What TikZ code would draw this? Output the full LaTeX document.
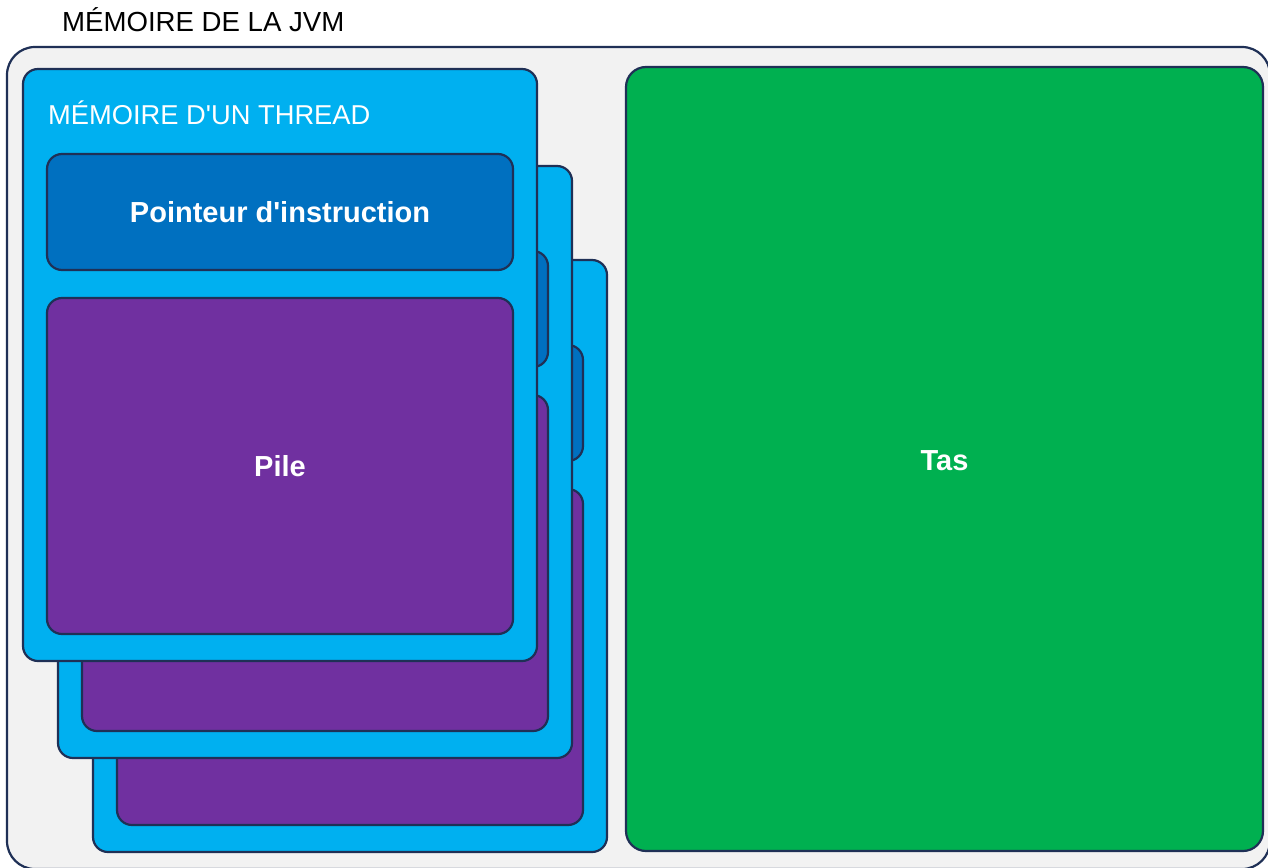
\documentclass[tikz,border=0pt]{standalone}
\usepackage{fontspec}
\setmainfont{Liberation Sans}
\definecolor{bordc}{HTML}{1F3056}
\definecolor{outerc}{HTML}{F2F2F2}
\definecolor{cardc}{HTML}{00B0F0}
\definecolor{pic}{HTML}{0070C0}
\definecolor{pilec}{HTML}{7030A0}
\definecolor{tasc}{HTML}{00B050}
\begin{document}
\begin{tikzpicture}[x=1pt,y=-1pt,
  box/.style={draw=bordc, line width=2.2pt, inner sep=0pt, outer sep=0pt, anchor=north west, rounded corners=15pt},
  cardbox/.style={box, fill=cardc, minimum width=514pt, minimum height=592pt},
  pibox/.style={box, fill=pic, minimum width=466pt, minimum height=116pt},
  pilebox/.style={box, fill=pilec, minimum width=466pt, minimum height=336pt},
  boldlbl/.style={text=white, font=\fontsize{29}{34}\selectfont\bfseries},
  titlelbl/.style={inner sep=0pt, anchor=base west, font=\fontsize{27.6}{32}\selectfont}
]
\useasboundingbox (0,0) rectangle (1268,867);
\fill[white] (0,0) rectangle (1268,867);
% outer JVM memory
\node[box, fill=outerc, rounded corners=28pt, minimum width=1263pt, minimum height=822pt] (jvm) at (7,47) {};
\node[titlelbl] (jvmlbl) at (62,32) {MÉMOIRE DE LA JVM};
% thread 3 (back)
\node[cardbox] (c3) at (93,260) {};
\node[pibox] (p3) at (117,345) {};
\node[pilebox] (s3) at (117,489) {};
% thread 2
\node[cardbox] (c2) at (58,166) {};
\node[pibox] (p2) at (82,251) {};
\node[pilebox] (s2) at (82,395) {};
% thread 1 (front)
\node[cardbox] (c1) at (23,69) {};
\node[titlelbl, text=white, font=\fontsize{27.3}{32}\selectfont] (c1lbl) at (48,124) {MÉMOIRE D\textquotesingle UN THREAD};
\node[pibox] (p1) at (47,154) {};
\node[boldlbl] (p1lbl) at (p1.center) {Pointeur d\textquotesingle instruction};
\node[pilebox] (s1) at (47,298) {};
\node[boldlbl] (s1lbl) at (s1.center) {Pile};
% heap
\node[box, fill=tasc, rounded corners=20pt, minimum width=637pt, minimum height=784pt] (tas) at (626,67) {};
\node[boldlbl] (taslbl) at ([yshift=-2pt]tas.center) {Tas};
\end{tikzpicture}
\end{document}
